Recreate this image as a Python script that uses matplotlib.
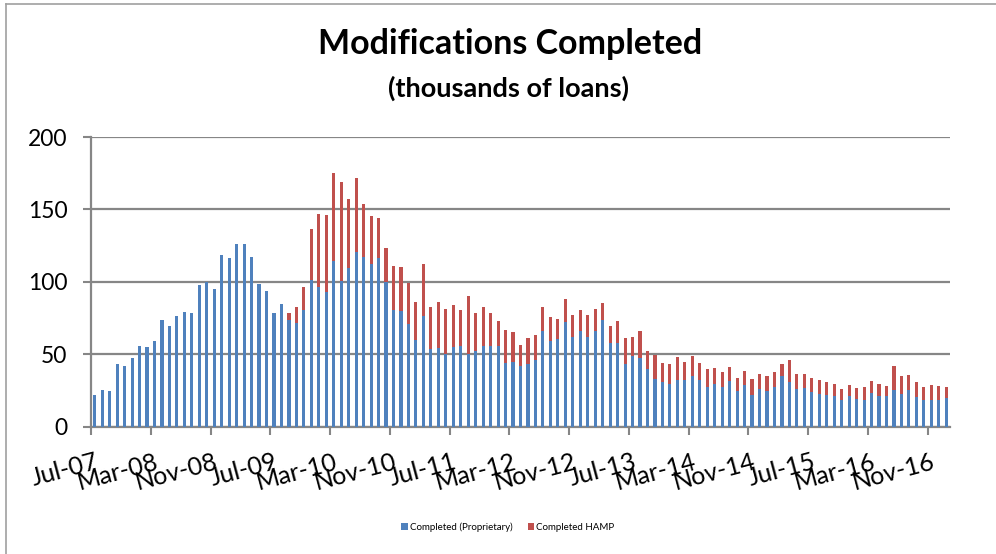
import numpy as np
import pandas as pd
import matplotlib
matplotlib.use("Agg")
import matplotlib.pyplot as plt
from matplotlib.lines import Line2D

plt.rcParams['font.family'] = ['Lato', 'DejaVu Sans']

# monthly data, Jul-07 .. Jan-17 (thousands of loans)
months = pd.date_range('2007-07-01', periods=115, freq='MS')

proprietary = [
    22.1, 25.1, 24.4, 43.3, 41.7, 47.2, 55.5, 54.8, 59.2, 73.4,
    69.5, 76.2, 79.2, 78.3, 97.8, 99.7, 95.1, 118.8, 116.3, 126.4,
    126.4, 117.4, 98.3, 93.7, 78.3, 84.5, 73.4, 71.8, 80.8, 101.3,
    96.7, 93.0, 114.6, 100.8, 109.8, 120.6, 116.9, 112.6, 116.5, 99.7,
    80.8, 80.1, 71.1, 60.1, 76.0, 53.6, 54.3, 50.2, 55.0, 55.5,
    50.0, 52.5, 55.9, 55.5, 55.5, 44.2, 44.9, 41.5, 43.5, 45.8,
    65.7, 59.0, 60.2, 72.5, 61.6, 65.7, 62.0, 66.2, 73.4, 57.6,
    57.4, 43.5, 48.6, 47.0, 39.6, 33.1, 31.0, 29.6, 32.4, 32.4,
    35.2, 32.4, 27.3, 29.6, 27.4, 31.2, 24.3, 28.4, 21.6, 25.7,
    24.8, 27.3, 34.9, 31.0, 25.7, 26.6, 23.9, 22.7, 21.6, 21.3,
    18.1, 20.9, 18.8, 18.6, 23.4, 21.1, 20.9, 25.5, 22.7, 25.2,
    20.4, 18.6, 18.3, 18.6, 19.5,
]

hamp = [
    0, 0, 0, 0, 0, 0, 0, 0, 0, 0,
    0, 0, 0, 0, 0, 0, 0, 0, 0, 0,
    0, 0, 0, 0, 0, 0, 4.9, 11.1, 15.9, 35.4,
    50.4, 53.2, 60.6, 68.4, 47.4, 51.1, 36.9, 33.1, 27.6, 23.5,
    29.9, 29.9, 27.9, 25.8, 36.1, 28.8, 32.0, 31.3, 28.6, 25.3,
    40.2, 26.0, 27.0, 23.2, 17.7, 22.4, 20.3, 15.1, 17.6, 17.4,
    16.7, 16.7, 13.9, 15.7, 15.5, 14.6, 15.1, 15.3, 12.2, 12.1,
    15.5, 17.4, 13.4, 19.0, 12.9, 16.2, 12.8, 13.5, 15.3, 12.5,
    13.2, 11.8, 12.1, 11.1, 10.1, 9.6, 9.4, 10.1, 11.0, 10.8,
    10.3, 10.1, 8.2, 15.1, 10.5, 9.6, 9.4, 9.4, 9.4, 7.8,
    7.6, 8.0, 7.8, 8.5, 8.3, 8.5, 7.1, 16.0, 11.9, 10.6,
    10.1, 8.9, 10.4, 9.6, 7.8,
]

tick_labels = ['Jul-07', 'Mar-08', 'Nov-08', 'Jul-09', 'Mar-10', 'Nov-10',
               'Jul-11', 'Mar-12', 'Nov-12', 'Jul-13', 'Mar-14', 'Nov-14',
               'Jul-15', 'Mar-16', 'Nov-16']

blue = '#4F81BD'
red = '#C0504D'
grey = '#868686'

fig = plt.figure(figsize=(9.96, 5.54), dpi=100)
ax = fig.add_axes([91 / 996, 1 - 426.5 / 554, 859 / 996, 289.5 / 554])

x = np.arange(len(months))
ax.bar(x, proprietary, width=0.42, color=blue, label='Completed (Proprietary)', zorder=3)
ax.bar(x, hamp, width=0.42, bottom=proprietary, color=red, label='Completed HAMP', zorder=3)

ax.set_xlim(-0.5, len(months) - 0.5)
ax.set_ylim(0, 200)
ax.set_yticks([0, 50, 100, 150, 200])
ax.yaxis.grid(True, color=grey, linewidth=1.6, zorder=0)
ax.set_axisbelow(True)

# tick marks between categories, labels under every 8th month
ax.set_xticks(np.arange(-0.5, len(months), 8))
ax.set_xticklabels([])
ax.set_xticks(np.arange(0, len(months), 8), minor=True)
ax.set_xticklabels(tick_labels, minor=True, rotation=15, ha='right',
                   rotation_mode='anchor', fontsize=18)
ax.tick_params(axis='x', which='major', length=6, width=1.5, color=grey)
ax.tick_params(axis='x', which='minor', length=0, pad=17)
ax.tick_params(axis='y', length=6, width=1.5, color=grey, labelsize=16.5, pad=11)

for s in ['top', 'right']:
    ax.spines[s].set_visible(False)
for s in ['left', 'bottom']:
    ax.spines[s].set_color(grey)
    ax.spines[s].set_linewidth(1.6)

fig.text(510 / 996, 1 - 44 / 554, 'Modifications Completed', ha='center', va='center',
         fontsize=24.5, fontweight='bold')
fig.text(508 / 996, 1 - 88 / 554, '(thousands of loans)', ha='center', va='center',
         fontsize=19.5, fontweight='bold')

fig.legend(loc='center', bbox_to_anchor=(508 / 996, 1 - 527 / 554), ncol=2,
           frameon=False, fontsize=7, handlelength=0.7, handleheight=0.7,
           handletextpad=0.2, columnspacing=1.5)

# outer chart border (only left and top edges visible in the crop)
fig.add_artist(Line2D([5.5 / 996, 5.5 / 996], [0, 1 - 3.5 / 554], transform=fig.transFigure,
                      color='#a0a0a0', linewidth=1.2))
fig.add_artist(Line2D([5.5 / 996, 1], [1 - 3.5 / 554, 1 - 3.5 / 554], transform=fig.transFigure,
                      color='#a0a0a0', linewidth=1.2))

fig.savefig('out.png', dpi=100)
